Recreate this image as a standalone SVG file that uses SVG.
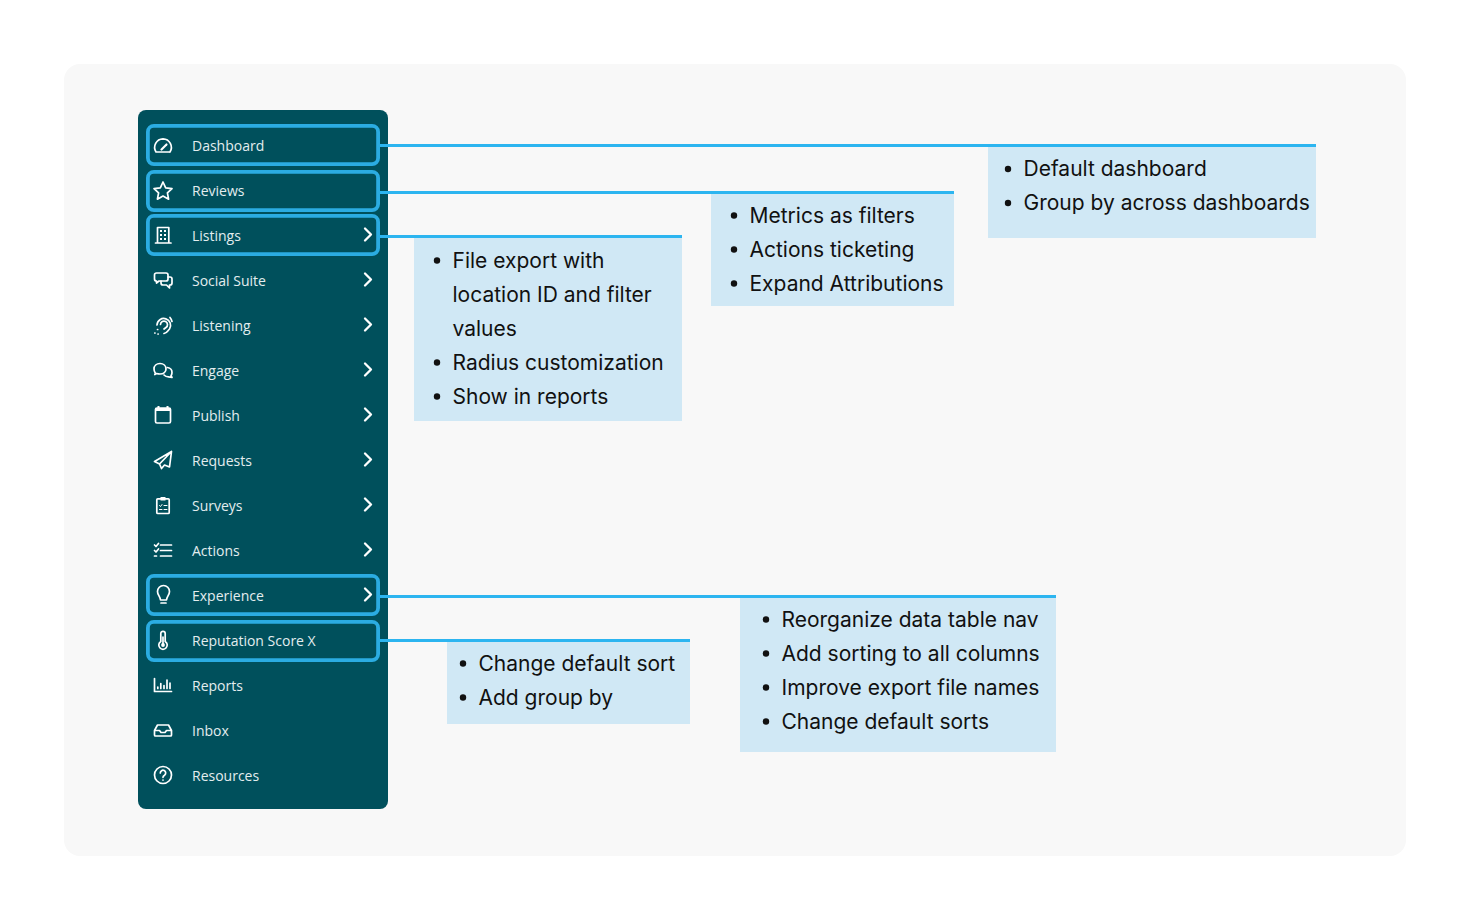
<svg xmlns="http://www.w3.org/2000/svg" width="1470" height="920" viewBox="0 0 1470 920">
<style>
.lbl{font:14px "Open Sans",sans-serif;fill:#e3edef}
.note{font:21px Inter,sans-serif;fill:#111}
.box{fill:#d0e8f5}
.hl{fill:none;stroke:#2bace2;stroke-width:3.8}
.conn{stroke:#2cb5f0;stroke-width:3;fill:none}
.ic{fill:none;stroke:#fff;stroke-width:1.7;stroke-linecap:round;stroke-linejoin:round}
.chev{fill:none;stroke:#fff;stroke-width:2.3;stroke-linecap:round;stroke-linejoin:round}
.dot{fill:#111}
</style>
<defs>
<polyline id="chevron" class="chev" points="-3,-6 3,0 -3,6"/>
</defs>
<rect width="1470" height="920" fill="#fff"/>
<rect id="panel" x="64" y="64" width="1342" height="792" rx="16" fill="#f8f8f8"/>
<rect id="sidebar" x="138" y="110" width="250" height="699" rx="8" fill="#00505c"/>

<g id="nav-dashboard">
<rect class="hl" x="147.900" y="125.900" width="230.200" height="38.200" rx="6"/>
<path class="ic" d="M156 152A8.600 8.600 0 0 1 163 138.800A8.600 8.600 0 0 1 170 152A1 1 0 0 1 169.500 152H156.500Z"/>
<path class="ic" d="M161.500 149.500L166.500 144.500" style="stroke-width:2.200"/>
<text class="lbl" x="192" y="151">Dashboard</text>
</g>
<g id="nav-reviews">
<rect class="hl" x="147.900" y="171.900" width="230.200" height="38.200" rx="6"/>
<path class="ic" d="M163 182L165.700 187.800L172 188.600L167.400 192.900L168.600 199.200L163 196.100L157.400 199.200L158.600 192.900L154 188.600L160.300 187.800Z"/>
<text class="lbl" x="192" y="196">Reviews</text>
</g>
<g id="nav-listings">
<rect class="hl" x="147.900" y="215.900" width="230.200" height="38.200" rx="6"/>
<path class="ic" d="M155.500 243H171M157.500 243V227.500H168.800V243"/>
<path d="M160 230h2v2h-2zM164 230h2v2h-2zM160 234h2v2h-2zM164 234h2v2h-2zM160 238h2v2h-2zM164 238h2v2h-2z" fill="#fff"/>
<text class="lbl" x="192" y="241">Listings</text>
<use href="#chevron" x="368" y="234.500"/>
</g>
<g id="nav-social-suite">
<path class="ic" d="M156.500 273H166a2 2 0 0 1 2 2V279a2 2 0 0 1-2 2H159L156.500 283V281a2 2 0 0 1-2-2V275a2 2 0 0 1 2-2Z"/>
<path class="ic" d="M168 277H170a2 2 0 0 1 2 2V283a2 2 0 0 1-2 2H169.500V288L166.500 285H163a2 2 0 0 1-2-2V281"/>
<text class="lbl" x="192" y="286">Social Suite</text>
<use href="#chevron" x="368" y="279.500"/>
</g>
<g id="nav-listening">
<path class="ic" d="M157 325A6.800 6.800 0 1 1 169.500 329C167.500 331 167 333 164 333.500"/>
<path class="ic" d="M160.500 324.500A3.500 3.500 0 1 1 166 327.500L164 329"/>
<path class="ic" d="M170 317.500A9 9 0 0 1 172 321.500M154.800 333L155 333M157.500 329.500L157.700 329.500M158 334L158.200 334"/>
<text class="lbl" x="192" y="331">Listening</text>
<use href="#chevron" x="368" y="324.500"/>
</g>
<g id="nav-engage">
<path class="ic" d="M155.500 373.500C154.500 372 154 370.500 154 369C154 365.800 156.500 363.500 160 363.500C163.500 363.500 166 365.800 166 369C166 372 163.500 374 160 374C158.800 374 157.500 373.800 156.500 373.500L154.800 374.500Z"/>
<path class="ic" d="M167.500 367.500C170.500 368 172 370 172 372.500C172 373.800 171.600 374.800 171 375.700L172 377.500L168.500 376.800C166.500 376.800 165 376 164 375"/>
<text class="lbl" x="192" y="376">Engage</text>
<use href="#chevron" x="368" y="369.500"/>
</g>
<g id="nav-publish">
<rect class="ic" x="155.500" y="408" width="15" height="15" rx="1.500"/>
<path d="M155.500 408H170.500V411H155.500Z M157.500 406h2v3h-2zM166.500 406h2v3h-2z" fill="#fff"/>
<text class="lbl" x="192" y="421">Publish</text>
<use href="#chevron" x="368" y="414.500"/>
</g>
<g id="nav-requests">
<path class="ic" d="M171.500 451.500L154.500 461.500L159.500 464L171.500 451.500L169.500 467L164.500 465L161.500 468.500L159.500 464"/>
<text class="lbl" x="192" y="466">Requests</text>
<use href="#chevron" x="368" y="459.500"/>
</g>
<g id="nav-surveys">
<rect class="ic" x="156.800" y="498.800" width="12.400" height="14.700" rx="1"/>
<path d="M160.500 497h5v3.500h-5z" fill="#fff"/>
<path class="ic" d="M159.500 505.500L160.500 506.500L162 504.500M164 505.500H167M159.500 509.500H162M164 509.500H167" style="stroke-width:1"/>
<text class="lbl" x="192" y="511">Surveys</text>
<use href="#chevron" x="368" y="504.500"/>
</g>
<g id="nav-actions">
<path class="ic" d="M160.500 545H171.500M160.500 550.500H171.500M160.500 556H171.500M154.500 545L156 546.500L158.500 543.500M154.500 550.500L156 552L158.500 549M154.500 556H156.500"/>
<text class="lbl" x="192" y="556">Actions</text>
<use href="#chevron" x="368" y="549.500"/>
</g>
<g id="nav-experience">
<rect class="hl" x="147.900" y="575.900" width="230.200" height="38.200" rx="6"/>
<path class="ic" d="M160.500 600C160 596 157.500 595 157.500 591.500A6 6 0 0 1 169.500 591.500C169.500 595 167 596 166.500 600ZM161 603H166"/>
<text class="lbl" x="192" y="601">Experience</text>
<use href="#chevron" x="368" y="594.500"/>
</g>
<g id="nav-reputation-score-x">
<rect class="hl" x="147.900" y="621.900" width="230.200" height="38.200" rx="6"/>
<path class="ic" d="M160.800 633.500A2.200 2.200 0 0 1 165.200 633.500V641.500A4.200 4.200 0 1 1 160.800 641.500Z"/>
<circle cx="163" cy="645" r="1.900" fill="#fff"/>
<path class="ic" d="M163 637V645"/>
<text class="lbl" x="192" y="646">Reputation Score X</text>
</g>
<g id="nav-reports">
<path class="ic" d="M154.500 678.500V691.500H171.500M157.800 687V688.500M160.800 683.500V688.500M164 685.500V688.500M167 680V688.500M170 683V688.500"/>
<text class="lbl" x="192" y="691">Reports</text>
</g>
<g id="nav-inbox">
<path class="ic" d="M154.500 730.500L157.500 725H168.500L171.500 730.500V735A1 1 0 0 1 170.500 736H155.500A1 1 0 0 1 154.500 735ZM154.500 730.500H159.500L161 732.500H165L166.500 730.500H171.500"/>
<text class="lbl" x="192" y="736">Inbox</text>
</g>
<g id="nav-resources">
<circle class="ic" cx="163" cy="775" r="8.500"/>
<path class="ic" d="M160.300 773A2.700 2.700 0 1 1 164.500 775.200C163.500 775.800 163 776.300 163 777.300M163 780L163 780.100"/>
<text class="lbl" x="192" y="781">Resources</text>
</g>

<g id="connectors">
<path class="conn" d="M380 145.500H1316"/>
<path class="conn" d="M380 192.500H954"/>
<path class="conn" d="M380 236.500H682"/>
<path class="conn" d="M380 596.500H1056"/>
<path class="conn" d="M380 640.500H690"/>
</g>

<g id="note-dashboard">
<rect class="box" x="988" y="147" width="328" height="91"/>
<circle class="dot" cx="1008" cy="169" r="3.200"/><circle class="dot" cx="1008" cy="203" r="3.200"/>
<text class="note" x="1023.500" y="176">Default dashboard</text>
<text class="note" x="1023.500" y="210">Group by across dashboards</text>
</g>
<g id="note-reviews">
<rect class="box" x="711" y="194" width="243" height="112"/>
<circle class="dot" cx="734" cy="215.500" r="3.200"/><circle class="dot" cx="734" cy="249.500" r="3.200"/><circle class="dot" cx="734" cy="283.500" r="3.200"/>
<text class="note" x="749.500" y="223">Metrics as filters</text>
<text class="note" x="749.500" y="257">Actions ticketing</text>
<text class="note" x="749.500" y="291">Expand Attributions</text>
</g>
<g id="note-listings">
<rect class="box" x="414" y="238" width="268" height="183"/>
<circle class="dot" cx="437" cy="260.500" r="3.200"/><circle class="dot" cx="437" cy="362.500" r="3.200"/><circle class="dot" cx="437" cy="396.500" r="3.200"/>
<text class="note" x="452.500" y="268">File export with</text>
<text class="note" x="452.500" y="302">location ID and filter</text>
<text class="note" x="452.500" y="336">values</text>
<text class="note" x="452.500" y="370">Radius customization</text>
<text class="note" x="452.500" y="404">Show in reports</text>
</g>
<g id="note-experience">
<rect class="box" x="740" y="598" width="316" height="154"/>
<circle class="dot" cx="766" cy="619.500" r="3.200"/><circle class="dot" cx="766" cy="653.500" r="3.200"/><circle class="dot" cx="766" cy="687.500" r="3.200"/><circle class="dot" cx="766" cy="721.500" r="3.200"/>
<text class="note" x="781.500" y="627">Reorganize data table nav</text>
<text class="note" x="781.500" y="661">Add sorting to all columns</text>
<text class="note" x="781.500" y="695">Improve export file names</text>
<text class="note" x="781.500" y="729">Change default sorts</text>
</g>
<g id="note-reputation">
<rect class="box" x="447" y="642" width="243" height="82"/>
<circle class="dot" cx="463" cy="663.500" r="3.200"/><circle class="dot" cx="463" cy="697.500" r="3.200"/>
<text class="note" x="478.500" y="671">Change default sort</text>
<text class="note" x="478.500" y="705">Add group by</text>
</g>
</svg>
